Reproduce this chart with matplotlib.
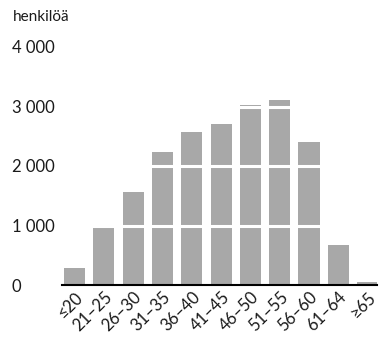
import matplotlib.pyplot as plt

# age groups and number of persons
groups = ["≤20", "21–25", "26–30", "31–35", "36–40", "41–45",
          "46–50", "51–55", "56–60", "61–64", "≥65"]
persons = [285, 975, 1560, 2230, 2565, 2700, 3030, 3115, 2410, 670, 50]
yticks = [0, 1000, 2000, 3000, 4000]
ytick_labels = ["0", "1 000", "2 000", "3 000", "4 000"]

plt.rcParams['font.family'] = ['Lato', 'DejaVu Sans']

fig = plt.figure(figsize=(3.79, 3.38), dpi=100)
ax = fig.add_axes([62/379, 1 - 285/338, (377 - 62)/379, (285 - 47)/338])

x = list(range(len(groups)))
ax.bar(x, persons, width=0.72, color="#a8a8a8", zorder=1)

# white gridlines drawn on top of the bars
for v in yticks[1:]:
    ax.axhline(v, color="white", lw=2.2, zorder=2)

ax.set_ylim(0, 4000)
ax.set_xlim(-0.43, 10.32)

ax.set_yticks(yticks)
ax.set_yticklabels(ytick_labels, fontsize=12, color="#1a1a1a")
for lab in ax.get_yticklabels():
    lab.set_horizontalalignment("left")
ax.tick_params(axis="y", length=0, pad=36)

ax.set_xticks(x)
ax.set_xticklabels(groups, rotation=45, ha="right", rotation_mode="anchor",
                   fontsize=12, color="#1a1a1a")
ax.tick_params(axis="x", length=0, pad=3)

for side in ["top", "right", "left"]:
    ax.spines[side].set_visible(False)
ax.spines["bottom"].set_linewidth(1.5)
ax.spines["bottom"].set_color("black")
ax.spines["bottom"].set_zorder(3)

fig.text(13/379, 1 - 17/338, "henkilöä", fontsize=11, va="center", ha="left",
         color="#1a1a1a")

fig.savefig("out.png", dpi=100)
